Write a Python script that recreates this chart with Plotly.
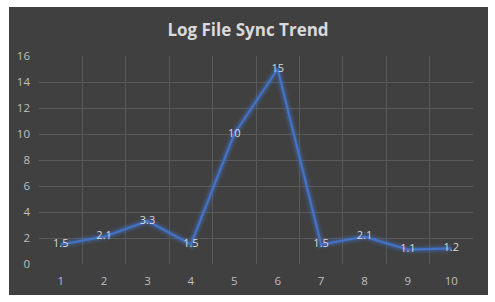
import plotly.graph_objects as go

categories = ["1", "2", "3", "4", "5", "6", "7", "8", "9", "10"]
values = [1.5, 2.1, 3.3, 1.5, 10, 15, 1.5, 2.1, 1.1, 1.2]
labels = ["1.5", "2.1", "3.3", "1.5", "10", "15", "1.5", "2.1", "1.1", "1.2"]
y_ticks = [0, 2, 4, 6, 8, 10, 12, 14, 16]

W, H = 495, 302
L, R, T, B = 39, 22, 56, 38
pw, ph = W - L - R, H - T - B

def px_x(p):
    return (p - L) / pw

def px_y(p):
    return (H - B - p) / ph

fig = go.Figure()
# glow layers
for w, a in [(10, 0.10), (7, 0.15), (5, 0.22)]:
    fig.add_trace(go.Scatter(x=categories, y=values, mode="lines",
                             line=dict(color=f"rgba(68,114,196,{a})", width=w),
                             hoverinfo="skip", showlegend=False))
fig.add_trace(go.Scatter(x=categories, y=values, mode="lines+text",
                         line=dict(color="#4472C4", width=2.25),
                         text=labels, textposition="middle center",
                         textfont=dict(color="#d9d9d9", size=11, family="Open Sans"),
                         showlegend=False))

fig.add_shape(type="rect", xref="paper", yref="paper",
              x0=px_x(9), x1=px_x(488), y0=px_y(295), y1=px_y(7),
              fillcolor="#404040", line=dict(color="#404040", width=0), layer="below")

fig.update_layout(
    width=W, height=H,
    margin=dict(l=L, r=R, t=T, b=B),
    paper_bgcolor="white",
    plot_bgcolor="rgba(0,0,0,0)",
    title=dict(text="<b>Log File Sync Trend</b>", x=(248 - 0) / W, xref="container", xanchor="center",
               y=1 - 30 / H, yref="container", yanchor="middle",
               font=dict(color="#d9d9d9", size=17, family="Open Sans")),
    font=dict(family="Open Sans", color="#bfbfbf", size=11),
)
fig.update_xaxes(type="category", tickson="boundaries", showgrid=True,
                 gridcolor="#595959", gridwidth=1, ticks="", showline=False,
                 zeroline=False, ticklabelstandoff=8,
                 tickfont=dict(color="#bfbfbf", size=11.5))
fig.update_yaxes(range=[0, 16], tickvals=y_ticks, showgrid=True, gridcolor="#595959",
                 gridwidth=1, zeroline=False, showline=False, ticks="",
                 ticklabelstandoff=8,
                 tickfont=dict(color="#bfbfbf", size=11.5))

fig.write_html("out.html")
